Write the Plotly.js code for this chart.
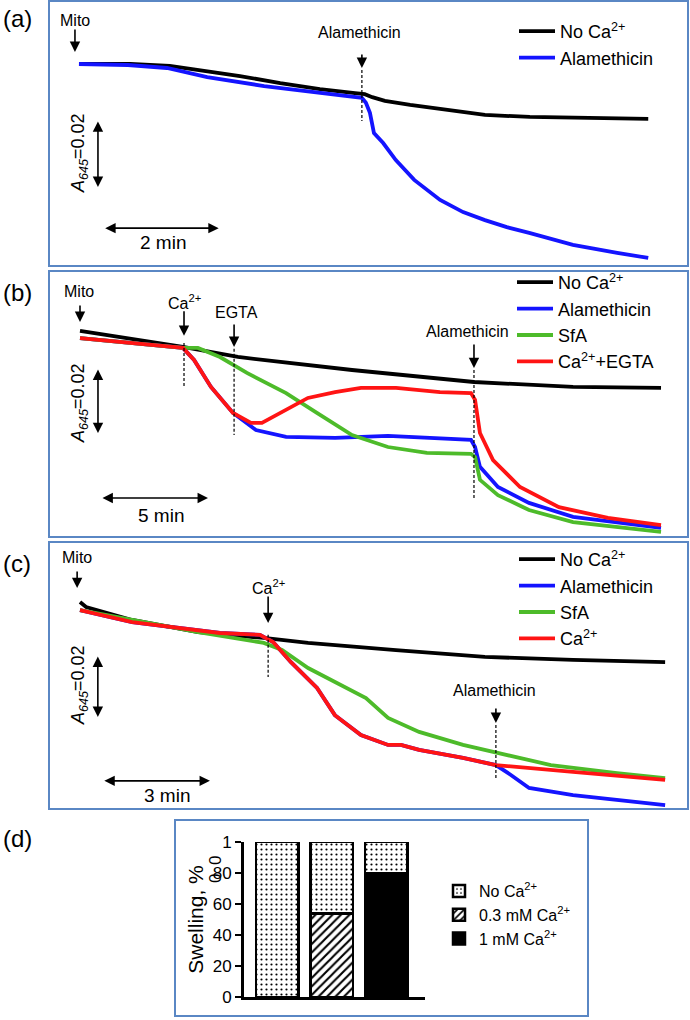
<!DOCTYPE html>
<html>
<head>
<meta charset="utf-8">
<script src="https://cdn.plot.ly/plotly-3.0.1.min.js"></script>
<style>html,body{margin:0;padding:0;background:#fff;}#chart{width:690px;height:1020px;}</style>
</head>
<body>
<div id="chart"></div>
<script>
// ---------------- DATA (time in min after Mito; dA = change of A645 x 1000) ----------------
// Panel (a)
const aNoCaTime = [0, 0.89, 1.58, 2.10, 2.80, 3.50, 4.19, 4.80, 4.97, 5.10, 5.32, 5.76, 6.28, 7.06, 7.84, 8.71, 9.90];
const aNoCaDA   = [0, 0, -0.6, -1.8, -3.6, -5.7, -7.5, -8.7, -9.0, -9.9, -11.0, -12.2, -13.4, -15.2, -15.8, -16.1, -16.4];
const aAlaTime  = [0, 0.85, 1.53, 2.23, 3.22, 4.14, 4.75, 4.92, 4.99, 5.06, 5.13, 5.29, 5.51, 5.83, 6.28, 6.68, 7.06, 7.44, 7.83, 8.59, 9.36, 9.90];
const aAlaDA    = [0, -0.3, -1.2, -3.9, -6.6, -8.4, -9.6, -10.1, -11.6, -14.6, -20.6, -23.6, -28.7, -34.6, -40.6, -44.2, -46.6, -48.7, -50.4, -54.0, -56.4, -57.9];

// Panel (b)
const bNoCaTime = [0, 4.81, 7.38, 12.71, 18.41, 23.04, 27.15];
const bNoCaDA   = [0, -4.9, -8.0, -12.0, -15.7, -17.2, -17.5];
const bAlaTime  = [0, 4.81, 5.33, 6.12, 7.15, 8.22, 9.63, 11.92, 14.39, 16.82, 18.27, 18.46, 18.69, 19.53, 20.98, 23.04, 27.15];
const bAlaDA    = [-2.2, -5.2, -8.9, -17.2, -25.2, -30.5, -32.6, -32.9, -32.3, -32.9, -33.5, -35.7, -41.8, -48.0, -52.9, -57.2, -60.6];
const bSfATime  = [0, 4.81, 5.51, 6.54, 7.80, 9.63, 11.07, 12.71, 14.39, 16.21, 18.27, 18.46, 18.69, 19.53, 20.98, 23.04, 27.15];
const bSfADA    = [-2.2, -5.2, -5.2, -8.0, -12.9, -19.1, -25.2, -32.0, -35.7, -37.5, -37.8, -38.8, -45.8, -50.5, -55.1, -58.8, -61.8];
const bEgtaTime = [0, 4.81, 5.33, 6.12, 7.15, 7.99, 8.50, 9.44, 10.65, 11.92, 13.13, 14.77, 16.82, 18.27, 18.46, 18.69, 19.30, 20.56, 22.38, 24.67, 27.15];
const bEgtaDA   = [-2.2, -5.2, -8.9, -17.2, -25.2, -28.3, -28.3, -24.9, -20.6, -18.8, -17.5, -17.5, -18.8, -19.1, -21.2, -31.4, -39.7, -48.0, -54.2, -57.5, -59.7];

// Panel (c)
const cNoCaTime = [0, 0.17, 1.46, 3.31, 5.15, 6.39, 8.85, 11.34, 13.81, 16.39];
const cNoCaDA   = [0, -1.6, -5.8, -9.7, -11.6, -13.2, -15.5, -17.7, -18.7, -19.4];
const cAlaTime  = [0, 1.46, 3.92, 5.04, 5.41, 5.91, 6.64, 7.14, 7.87, 8.63, 8.99, 9.50, 10.73, 11.65, 12.07, 12.58, 13.81, 15.04, 16.39];
const cAlaDA    = [-2.6, -6.5, -10.0, -10.6, -12.9, -19.4, -27.7, -36.5, -42.9, -46.1, -46.1, -47.7, -50.3, -52.6, -55.8, -60.0, -62.3, -63.9, -65.5];
const cSfATime  = [0, 1.46, 3.31, 5.15, 5.66, 6.39, 7.39, 8.01, 8.63, 9.50, 10.73, 11.71, 13.19, 15.04, 16.39];
const cSfADA    = [-2.6, -5.8, -9.7, -13.2, -15.5, -21.3, -27.4, -31.0, -37.4, -41.9, -46.1, -48.7, -52.6, -55.2, -56.8];
const cCaTime   = [0, 1.46, 3.92, 5.04, 5.41, 5.91, 6.64, 7.14, 7.87, 8.63, 8.99, 9.50, 10.73, 11.65, 13.81, 16.39];
const cCaDA     = [-2.6, -6.5, -10.0, -10.6, -12.9, -19.4, -27.7, -36.5, -42.9, -46.1, -46.1, -47.7, -50.3, -52.6, -54.8, -57.4];

// Panel (d)
const dCategories  = ['No Ca2+', '0.3 mM Ca2+', '1 mM Ca2+'];
const dNoCaPart    = [100, 46, 20];
const dLowCaPart   = [null, 54, null];
const dHighCaPart  = [null, null, 80];
const dTickVals    = [0, 20, 40, 60, 80, 100];
const dTickText    = ['0', '20', '40', '60', '80', '1'];

// Legend names
const nNoCa = 'No Ca<sup>2+</sup>';
const nAla  = 'Alamethicin';
const nSfA  = 'SfA';
const nEgta = 'Ca<sup>2+</sup>+EGTA';
const nCa   = 'Ca<sup>2+</sup>';

// ---------------- STYLE ----------------
const FONT = 'Liberation Sans, Arial, Helvetica, sans-serif';
const BLACK = '#000000', BLUE = '#1414ff', GREEN = '#4dbb2a', RED = '#ff1414';
const BOX = '#5a87c4';
const LW = 3.8;

function line(x, y, color, name, xa, ya, leg) {
  return {type: 'scatter', mode: 'lines', x: x, y: y, name: name, xaxis: xa, yaxis: ya,
          legend: leg, line: {color: color, width: LW}, hoverinfo: 'skip'};
}

const data = [
  line(aNoCaTime, aNoCaDA, BLACK, nNoCa, 'x', 'y', 'legend'),
  line(aAlaTime, aAlaDA, BLUE, nAla, 'x', 'y', 'legend'),
  line(bNoCaTime, bNoCaDA, BLACK, nNoCa, 'x2', 'y2', 'legend2'),
  line(bAlaTime, bAlaDA, BLUE, nAla, 'x2', 'y2', 'legend2'),
  line(bSfATime, bSfADA, GREEN, nSfA, 'x2', 'y2', 'legend2'),
  line(bEgtaTime, bEgtaDA, RED, nEgta, 'x2', 'y2', 'legend2'),
  line(cNoCaTime, cNoCaDA, BLACK, nNoCa, 'x3', 'y3', 'legend3'),
  line(cAlaTime, cAlaDA, BLUE, nAla, 'x3', 'y3', 'legend3'),
  line(cSfATime, cSfADA, GREEN, nSfA, 'x3', 'y3', 'legend3'),
  line(cCaTime, cCaDA, RED, nCa, 'x3', 'y3', 'legend3'),
  {type: 'bar', x: dCategories, y: dLowCaPart, name: '0.3 mM Ca<sup>2+</sup>', xaxis: 'x4', yaxis: 'y4',
   legend: 'legend4', legendrank: 2,
   marker: {color: 'white', line: {color: 'black', width: 2.5},
            pattern: {shape: '/', fgcolor: 'black', bgcolor: 'white', size: 6, solidity: 0.35}}},
  {type: 'bar', x: dCategories, y: dHighCaPart, name: '1 mM Ca<sup>2+</sup>', xaxis: 'x4', yaxis: 'y4',
   legend: 'legend4', legendrank: 3,
   marker: {color: 'black', line: {color: 'black', width: 2.5}}},
  {type: 'bar', x: dCategories, y: dNoCaPart, name: 'No Ca<sup>2+</sup>', xaxis: 'x4', yaxis: 'y4',
   legend: 'legend4', legendrank: 1,
   marker: {color: 'white', line: {color: 'black', width: 2.5},
            pattern: {shape: '.', fgcolor: 'black', bgcolor: 'white', size: 5, solidity: 0.15}}}
];

const W = 690, H = 1020;
const px = v => v / W;
const py = v => 1 - v / H;

function boxAxis(domain, range, anchor) {
  return {domain: domain, range: range, anchor: anchor, showline: true, mirror: true, linecolor: BOX, linewidth: 2,
          showticklabels: false, ticks: '', showgrid: false, zeroline: false, fixedrange: true};
}

const legendBase = {bgcolor: 'rgba(0,0,0,0)', borderwidth: 0, font: {family: FONT, size: 18, color: 'black'},
                    xanchor: 'left', yanchor: 'top', tracegroupgap: 0, itemwidth: 36, traceorder: 'normal'};

// annotation helpers
const ann = [];
function label(xref, yref, x, y, text, size, extra) {
  ann.push(Object.assign({xref: xref, yref: yref, x: x, y: y, text: text, showarrow: false,
    font: {family: FONT, size: size, color: 'black'}, xanchor: 'center', yanchor: 'middle'}, extra || {}));
}
function downArrow(xref, yref, x, y, len) {
  ann.push({xref: xref, yref: yref, x: x, y: y, ax: 0, ay: -len, text: '', showarrow: true,
    arrowhead: 2, arrowsize: 1.3, arrowwidth: 1.6, arrowcolor: 'black', standoff: 0, startstandoff: 0});
}
function scaleBar(xref, yref, x0, y0, x1, y1) {
  ann.push({xref: xref, yref: yref, axref: xref, ayref: yref, x: x1, y: y1, ax: x0, ay: y0, text: '',
    showarrow: true, arrowhead: 2, arrowside: 'end+start', arrowsize: 1.3, arrowwidth: 1.6, arrowcolor: 'black'});
}
const shapes = [];
function dashed(xref, yref, x, y0, y1) {
  shapes.push({type: 'line', xref: xref, yref: yref, x0: x, x1: x, y0: y0, y1: y1,
    line: {color: 'black', width: 1.2, dash: '3px,2px'}});
}

// Panel labels
label('paper', 'paper', px(17), py(18), '(a)', 24);
label('paper', 'paper', px(17), py(292), '(b)', 24);
label('paper', 'paper', px(17), py(563), '(c)', 24);
label('paper', 'paper', px(17), py(838), '(d)', 24);

// Panel (a) markers
label('x', 'y', -0.07, 13.1, 'Mito', 16);
downArrow('x', 'y', -0.07, 3.6, 24);
label('x', 'y', 4.87, 9.4, 'Alamethicin', 16);
downArrow('x', 'y', 4.92, -1.2, 15);
dashed('x', 'y', 4.92, -1.8, -17.0);
scaleBar('x', 'y', 0.33, -16.7, 0.33, -36.7);
label('x', 'y', 0.0, -26.6, '<i>A</i><sub><i>645</i></sub>=0.02', 18, {textangle: -90});
scaleBar('x', 'y', 0.43, -49.0, 2.43, -49.0);
label('x', 'y', 1.46, -53.4, '2 min', 19);

// Panel (b) markers
label('x2', 'y2', -0.05, 12.0, 'Mito', 16);
downArrow('x2', 'y2', 0.0, 2.8, 18);
label('x2', 'y2', 4.86, 8.9, 'Ca<sup>2+</sup>', 16);
downArrow('x2', 'y2', 4.86, -1.5, 26);
dashed('x2', 'y2', 4.86, -3.7, -17.5);
label('x2', 'y2', 7.29, 5.8, 'EGTA', 16);
downArrow('x2', 'y2', 7.2, -4.9, 24);
dashed('x2', 'y2', 7.2, -5.5, -32.0);
label('x2', 'y2', 18.13, -0.3, 'Alamethicin', 16);
downArrow('x2', 'y2', 18.41, -11.4, 25);
dashed('x2', 'y2', 18.41, -12.0, -51.4);
scaleBar('x2', 'y2', 0.84, -11.4, 0.84, -31.4);
label('x2', 'y2', -0.05, -22.2, '<i>A</i><sub><i>645</i></sub>=0.02', 18, {textangle: -90});
scaleBar('x2', 'y2', 0.98, -51.4, 5.98, -51.4);
label('x2', 'y2', 3.78, -56.9, '5 min', 19);

// Panel (c) markers
label('x3', 'y3', -0.08, 14.2, 'Mito', 16);
downArrow('x3', 'y3', -0.08, 4.5, 18);
label('x3', 'y3', 5.29, 4.8, 'Ca<sup>2+</sup>', 16);
downArrow('x3', 'y3', 5.27, -6.8, 28);
dashed('x3', 'y3', 5.27, -10.6, -24.2);
label('x3', 'y3', 11.6, -28.4, 'Alamethicin', 16);
downArrow('x3', 'y3', 11.65, -39.0, 16);
dashed('x3', 'y3', 11.65, -39.7, -57.4);
scaleBar('x3', 'y3', 0.50, -17.1, 0.50, -37.1);
label('x3', 'y3', -0.03, -26.8, '<i>A</i><sub><i>645</i></sub>=0.02', 18, {textangle: -90});
scaleBar('x3', 'y3', 0.64, -57.7, 3.64, -57.7);
label('x3', 'y3', 2.44, -62.3, '3 min', 19);

// Panel (d) garbled "100" digits as printed
label('paper', 'paper', px(215), py(861), '0', 17, {textangle: -90});
label('paper', 'paper', px(215), py(879), '0', 17, {textangle: -90});

// Panel (d) frame
shapes.push({type: 'rect', xref: 'paper', yref: 'paper', x0: px(175), x1: px(588), y0: py(1016), y1: py(820),
  line: {color: BOX, width: 2}, fillcolor: 'rgba(0,0,0,0)', layer: 'below'});

const layout = {
  width: W, height: H, margin: {l: 0, r: 0, t: 0, b: 0}, paper_bgcolor: 'white', plot_bgcolor: 'white',
  font: {family: FONT, color: 'black'}, showlegend: true, barmode: 'stack', bargap: 0.22,
  xaxis:  boxAxis([px(50), px(687)], [-0.504, 10.574], 'y'),
  yaxis:  boxAxis([py(265), py(2)], [-60.0, 18.5], 'x'),
  xaxis2: boxAxis([px(50), px(687)], [-1.402, 28.364], 'y2'),
  yaxis2: boxAxis([py(536), py(272)], [-63.08, 18.15], 'x2'),
  xaxis3: boxAxis([px(50), px(687)], [-0.840, 17.003], 'y3'),
  yaxis3: boxAxis([py(808), py(543)], [-66.45, 19.03], 'x3'),
  xaxis4: {domain: [px(244), px(425)], range: [-0.61, 2.71], type: 'category', anchor: 'y4', showline: true,
           linecolor: 'black', linewidth: 3, showticklabels: false, ticks: '', showgrid: false, zeroline: false,
           fixedrange: true},
  yaxis4: {domain: [py(997), py(842)], range: [0, 100], anchor: 'x4', showline: true, linecolor: 'black', linewidth: 3,
           ticks: 'outside', ticklen: 6, tickwidth: 2, tickcolor: 'black', tickvals: dTickVals, ticktext: dTickText,
           tickfont: {family: FONT, size: 17, color: 'black'}, showgrid: false, zeroline: false, fixedrange: true,
           title: {text: 'Swelling, %', font: {family: FONT, size: 21, color: 'black'}, standoff: 4}},
  legend:  Object.assign({}, legendBase, {x: px(514), y: py(13)}),
  legend2: Object.assign({}, legendBase, {x: px(512), y: py(264)}),
  legend3: Object.assign({}, legendBase, {x: px(514), y: py(541)}),
  legend4: Object.assign({}, legendBase, {x: px(439), y: py(874), itemwidth: 30,
                                          font: {family: FONT, size: 16, color: 'black'}}),
  annotations: ann,
  shapes: shapes
};

Plotly.newPlot('chart', data, layout, {staticPlot: true, displayModeBar: false});
</script>
</body>
</html>
